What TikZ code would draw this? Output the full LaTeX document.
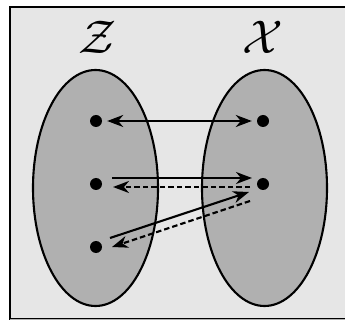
\documentclass[tikz,border=0pt]{standalone}
\usetikzlibrary{arrows.meta,calc,shapes.geometric}
\begin{document}
\begin{tikzpicture}[x=1pt,y=-1pt,
  setshape/.style={draw=black,line width=2.1pt,fill=setgray},
  pt/.style={circle,fill=black,inner sep=0pt,minimum size=12pt},
  conn/.style={line width=2.1pt,-{Stealth[length=16pt,width=12pt,inset=5pt]}},
  dconn/.style={conn,dash pattern=on 5.5pt off 3pt},
  lbl/.style={scale=1.9,inner sep=0pt}]
\definecolor{bggray}{HTML}{E6E6E6}
\definecolor{setgray}{HTML}{B0B0B0}
\useasboundingbox (0,0) rectangle (345,320);
\clip (0,0) rectangle (345,320);
\fill[white] (0,0) rectangle (345,320);
\draw[line width=2.8pt,fill=bggray] (10,7) rectangle (350,319);
\draw[gray!60,line width=1pt] (10,319) -- (345,319);
\node[lbl] (lz) at (98,37) {\Huge$\mathcal{Z}$};
\node[lbl] (lx) at (263,37) {\Huge$\mathcal{X}$};
\node[setshape,ellipse,minimum width=125pt,minimum height=236pt,inner sep=0pt] (ez) at (95.5,188) {};
\node[setshape,ellipse,minimum width=125pt,minimum height=236pt,inner sep=0pt] (ex) at (264.5,188) {};
\node[pt] (z1) at (96,121) {};
\node[pt] (z2) at (96,184) {};
\node[pt] (z3) at (96,247) {};
\node[pt] (x1) at (263,121) {};
\node[pt] (x2) at (263,184) {};
\draw[conn,{Stealth[length=16pt,width=12pt,inset=5pt]}-{Stealth[length=16pt,width=12pt,inset=5pt]},shorten <=5pt,shorten >=5pt] (z1) -- (x1);
\draw[conn] ($(z2)+(16,-6)$) -- ($(x2)+(-11,-6)$);
\draw[dconn] ($(x2)+(-13,3)$) -- ($(z2)+(17,3)$);
\draw[conn] ($(z3)+(14,-9)$) -- ($(x2)+(-14,8)$);
\draw[dconn] ($(x2)+(-13,17)$) -- ($(z3)+(16,0)$);
\end{tikzpicture}
\end{document}
